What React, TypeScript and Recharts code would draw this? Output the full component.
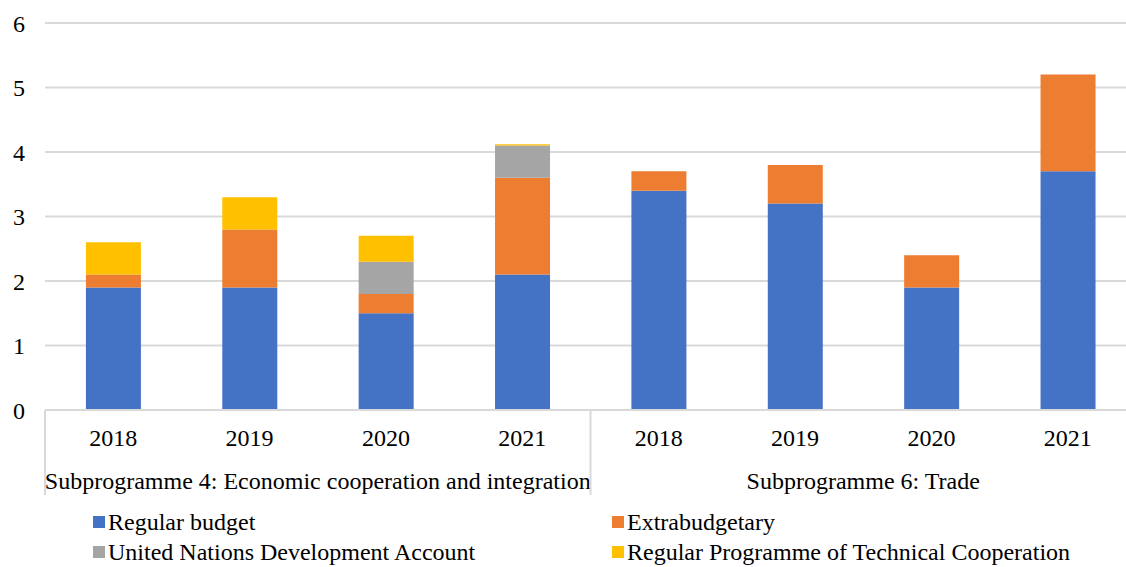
import React from 'react';
import { BarChart, Bar, XAxis, YAxis, CartesianGrid } from 'recharts';

const categoryKeys = ['S4-2018', 'S4-2019', 'S4-2020', 'S4-2021', 'S6-2018', 'S6-2019', 'S6-2020', 'S6-2021'];
const yearLabels = ['2018', '2019', '2020', '2021', '2018', '2019', '2020', '2021'];
const groupLabels = ['Subprogramme 4: Economic cooperation and integration', 'Subprogramme 6: Trade'];
const regularBudget = [1.9, 1.9, 1.5, 2.1, 3.4, 3.2, 1.9, 3.7];
const extrabudgetary = [0.2, 0.9, 0.3, 1.5, 0.3, 0.6, 0.5, 1.5];
const developmentAccount = [0, 0, 0.5, 0.5, 0, 0, 0, 0];
const technicalCooperation = [0.5, 0.5, 0.4, 0.02, 0, 0, 0, 0];
const yTicks = [0, 1, 2, 3, 4, 5, 6];

const seriesNames = ['Regular budget', 'Extrabudgetary', 'United Nations Development Account', 'Regular Programme of Technical Cooperation'];
const seriesColors = ['#4472C4', '#ED7D31', '#A5A5A5', '#FFC000'];

const data = categoryKeys.map((k, i) => ({
  key: k,
  rb: regularBudget[i],
  eb: extrabudgetary[i],
  unda: developmentAccount[i],
  rptc: technicalCooperation[i],
}));

const W = 1140;
const H = 567;
const M_LEFT = 0;
const M_RIGHT = 4;
const Y_W = 45;
const M_TOP = 23;
const PLOT_BOTTOM = 410;
const X_H = 100;
const M_BOTTOM = H - PLOT_BOTTOM - X_H;
const PLOT_W = W - M_LEFT - M_RIGHT - Y_W;
const BAND = PLOT_W / categoryKeys.length;
const FONT = 'Liberation Serif';
const FS = 24;

const XTick = (props: any) => {
  const { x, payload } = props;
  const i = payload.index;
  const els: any[] = [];
  els.push(
    <text key="y" x={x} y={438} textAnchor="middle" dominantBaseline="central" fontFamily={FONT} fontSize={FS} fill="#000">
      {yearLabels[i]}
    </text>
  );
  if (i % 4 === 0) {
    const g = i / 4;
    const left = x - BAND / 2;
    els.push(
      <text key="g" x={left + BAND * 2} y={481} textAnchor="middle" dominantBaseline="central" fontFamily={FONT} fontSize={FS} fill="#000">
        {groupLabels[g]}
      </text>
    );
    els.push(<line key="l" x1={left} x2={left} y1={PLOT_BOTTOM} y2={495} stroke="#d9d9d9" strokeWidth={2} />);
    if (g === 1) {
      els.push(<line key="r" x1={left + BAND * 4} x2={left + BAND * 4} y1={PLOT_BOTTOM} y2={495} stroke="#d9d9d9" strokeWidth={2} />);
    }
  }
  return <g>{els}</g>;
};

const legendRows = [
  [0, 1],
  [2, 3],
];

export default function App() {
  return (
    <div style={{ position: 'fixed', left: 0, top: 0, width: 1126, height: 567, overflow: 'hidden', background: '#fff' }}>
      <BarChart
        width={W}
        height={H}
        data={data}
        margin={{ top: M_TOP, right: M_RIGHT, left: M_LEFT, bottom: M_BOTTOM }}
        barCategoryGap="30%"
      >
        <CartesianGrid vertical={false} stroke="#d9d9d9" strokeWidth={2} />
        <YAxis
          width={Y_W}
          domain={[0, 6]}
          ticks={yTicks}
          axisLine={false}
          tickLine={false}
          tickMargin={14}
          tick={{ fontFamily: FONT, fontSize: FS, fill: '#000' }}
        />
        <XAxis
          dataKey="key"
          height={X_H}
          axisLine={{ stroke: '#d9d9d9', strokeWidth: 2 }}
          tickLine={false}
          interval={0}
          tick={<XTick />}
        />
        <Bar dataKey="rb" stackId="a" fill={seriesColors[0]} isAnimationActive={false} />
        <Bar dataKey="eb" stackId="a" fill={seriesColors[1]} isAnimationActive={false} />
        <Bar dataKey="unda" stackId="a" fill={seriesColors[2]} isAnimationActive={false} />
        <Bar dataKey="rptc" stackId="a" fill={seriesColors[3]} isAnimationActive={false} />
      </BarChart>
      {legendRows.map((row, r) =>
        row.map((s, c) => (
          <div
            key={`${r}-${c}`}
            style={{
              position: 'absolute',
              left: c === 0 ? 93 : 612,
              top: r === 0 ? 522 - 14 : 552 - 14,
              height: 28,
              lineHeight: '28px',
              display: 'flex',
              alignItems: 'center',
              fontFamily: FONT,
              fontSize: FS,
              color: '#000',
              whiteSpace: 'nowrap',
            }}
          >
            <span style={{ display: 'inline-block', width: 12, height: 12, background: seriesColors[s], marginRight: 3 }} />
            <span>{seriesNames[s]}</span>
          </div>
        ))
      )}
    </div>
  );
}
